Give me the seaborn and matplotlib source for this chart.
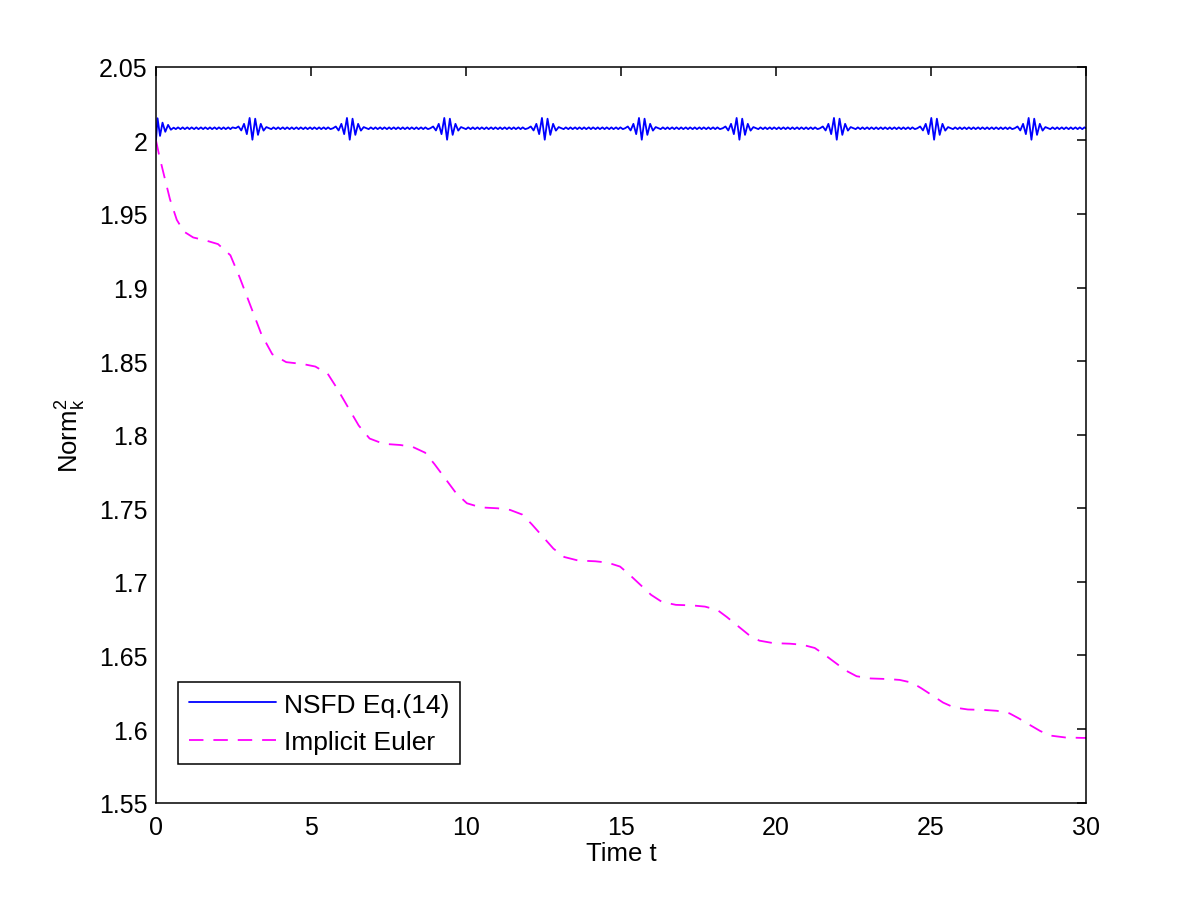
import seaborn as sns
import matplotlib
matplotlib.use("Agg")
import matplotlib.pyplot as plt
from matplotlib.ticker import FuncFormatter
import pandas as pd
import numpy as np

sns.set_theme(style="white")
plt.rcParams['font.family'] = ['Liberation Sans', 'DejaVu Sans']
plt.rcParams['mathtext.fontset'] = 'custom'
plt.rcParams['mathtext.rm'] = 'Liberation Sans'
plt.rcParams['mathtext.it'] = 'Liberation Sans'
plt.rcParams['text.color'] = 'black'
plt.rcParams['axes.labelcolor'] = 'black'

# NSFD Eq.(14): flat level with bursts of oscillation
nsfd_level = 2.0082
# start of the run (t, value)
nsfd_start_t = [0.0, 0.05, 0.13, 0.21, 0.30, 0.39, 0.48, 0.57]
nsfd_start_y = [2.000, 2.0150, 2.0030, 2.0120, 2.0058, 2.0105, 2.0072, 2.0086]
# centres of the bursts
burst_centres = [3.12, 6.26, 9.40, 12.55, 15.68, 18.83, 21.97, 25.11, 28.25]
# one burst: offset in t from the centre, deviation from the level (x1e-3)
burst_dt = [-0.55, -0.46, -0.37, -0.28, -0.19, -0.10, -0.01, 0.08,
            0.17, 0.26, 0.35, 0.44, 0.53]
burst_dy = [0.0, 1.2, -1.5, 3.0, -4.0, 7.0, -7.8, 6.5,
            -4.5, 3.0, -1.6, 0.8, 0.0]
# small ripple between bursts: offset after the end of a burst / start, deviation (x1e-3)
ripple_dt = [0.07, 0.14, 0.22, 0.29, 0.36, 0.44, 0.51, 0.58, 0.66, 0.73,
             0.80, 0.88, 0.95, 1.02, 1.10, 1.17, 1.24, 1.32, 1.39, 1.46,
             1.54, 1.61, 1.68, 1.76, 1.83, 1.90, 1.98]
ripple_dy = [-0.6, 0.6, -0.6, 0.6, -0.6, 0.6, -0.6, 0.6, -0.6, 0.6,
             -0.6, 0.6, -0.6, 0.6, -0.6, 0.6, -0.6, 0.6, -0.6, 0.6,
             -0.6, 0.6, -0.6, 0.6, -0.6, 0.6, -0.6]

# Implicit Euler (dashed)
euler_t = [0.0, 0.1, 0.25, 0.45, 0.67, 0.9, 1.2, 1.6,
           2.0, 2.4, 2.7, 3.05, 3.4, 3.75, 4.2, 4.74,
           5.14, 5.54, 5.84, 6.19, 6.54, 6.89, 7.34, 7.88,
           8.28, 8.68, 8.98, 9.33, 9.68, 10.03, 10.48, 11.02,
           11.42, 11.82, 12.12, 12.47, 12.82, 13.17, 13.62, 14.17,
           14.57, 14.97, 15.27, 15.62, 15.97, 16.32, 16.77, 17.31,
           17.71, 18.11, 18.41, 18.76, 19.11, 19.46, 19.91, 20.45,
           20.85, 21.25, 21.55, 21.9, 22.25, 22.6, 23.05, 23.59,
           23.99, 24.39, 24.69, 25.04, 25.39, 25.74, 26.19, 26.73,
           27.13, 27.53, 27.83, 28.18, 28.53, 28.88, 29.33, 29.87, 30.0]
euler_y = [2.000, 1.990, 1.977, 1.960, 1.946, 1.938, 1.934, 1.932,
           1.9295, 1.9219, 1.9068, 1.8875, 1.8682, 1.8547, 1.8493, 1.848,
           1.8463, 1.8414, 1.8315, 1.8188, 1.8062, 1.7974, 1.7938, 1.793,
           1.7917, 1.7878, 1.7801, 1.7702, 1.7603, 1.7534, 1.7506, 1.750,
           1.7489, 1.7457, 1.7392, 1.7309, 1.7226, 1.7169, 1.7145, 1.714,
           1.7131, 1.7104, 1.7050, 1.6981, 1.6912, 1.6864, 1.6844, 1.684,
           1.6832, 1.6809, 1.6762, 1.6702, 1.6642, 1.6601, 1.6584, 1.658,
           1.6573, 1.6551, 1.6508, 1.6453, 1.6398, 1.6359, 1.6344, 1.634,
           1.6334, 1.6315, 1.6277, 1.6229, 1.6180, 1.6147, 1.6133, 1.613,
           1.6124, 1.6107, 1.6073, 1.6029, 1.5986, 1.5955, 1.5943, 1.594, 1.594]

# put the NSFD line together
nt = list(nsfd_start_t)
ny = list(nsfd_start_y)
starts = [nsfd_start_t[-1]] + [c + burst_dt[-1] for c in burst_centres]
ends = [c + burst_dt[0] for c in burst_centres] + [30.0]
for k in range(len(starts)):
    for dt, dy in zip(ripple_dt, ripple_dy):
        if starts[k] + dt < ends[k] - 0.03:
            nt.append(starts[k] + dt)
            ny.append(nsfd_level + dy * 1e-3)
    if k < len(burst_centres):
        for dt, dy in zip(burst_dt, burst_dy):
            nt.append(burst_centres[k] + dt)
            ny.append(nsfd_level + dy * 1e-3)
nt.append(30.0)
ny.append(nsfd_level)

nsfd = pd.DataFrame({'t': nt, 'y': ny})
euler = pd.DataFrame({'t': euler_t, 'y': euler_y})

fig = plt.figure(figsize=(12, 9.03), dpi=100)
ax = fig.add_axes([0.13, 0.11, 0.775, 0.815])

sns.lineplot(data=nsfd, x='t', y='y', ax=ax, color=(0, 0, 1), lw=1.3,
             estimator=None, sort=False, label='NSFD Eq.(14)')
sns.lineplot(data=euler, x='t', y='y', ax=ax, color=(1, 0, 1), lw=1.3,
             estimator=None, sort=False, label='Implicit Euler')
ax.lines[1].set_dashes((8, 5.5))

ax.set_xlim(0, 30)
ax.set_ylim(1.55, 2.05)
ax.set_xticks(np.arange(0, 31, 5))
ax.set_yticks(np.round(np.arange(1.55, 2.051, 0.05), 2))
ax.yaxis.set_major_formatter(FuncFormatter(lambda v, p: '%g' % round(v, 2)))

for s in ax.spines.values():
    s.set_color('black')
    s.set_linewidth(1.1)
ax.tick_params(direction='in', length=6.5, width=1.1, top=True, right=True,
               labelsize=18, colors='black')
ax.tick_params(axis='x', pad=9)
ax.tick_params(axis='y', pad=6)
ax.set_xlabel('Time t', fontsize=18.5, labelpad=1, color='black')
ax.set_ylabel('Norm$^2_k$', fontsize=18.5, labelpad=8, color='black')

leg = ax.legend(loc='lower left', bbox_to_anchor=(0.0237, 0.052), fontsize=19,
                frameon=True, fancybox=False, framealpha=1, edgecolor='black',
                handlelength=3.3, borderpad=0.4, labelspacing=0.5,
                handletextpad=0.3, borderaxespad=0)
leg.get_frame().set_linewidth(1.1)
leg.legend_handles[1].set_dashes((8, 5.5))
for txt in leg.get_texts():
    txt.set_color('black')

fig.savefig('out.png', dpi=100, facecolor='white')
